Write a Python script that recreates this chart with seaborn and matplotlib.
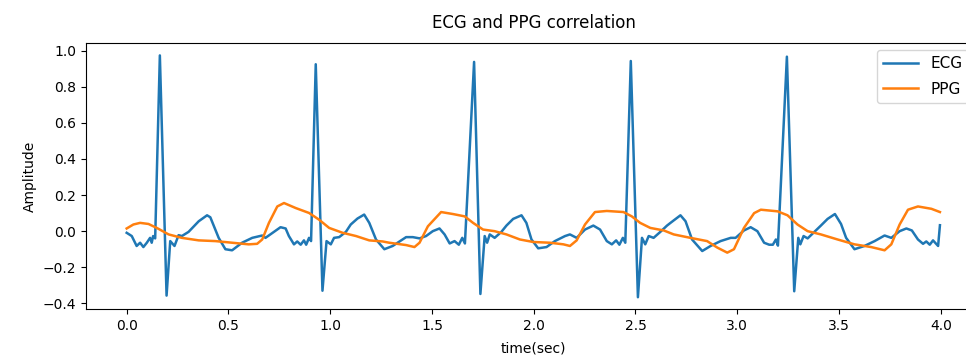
#-- ECG and PPG correlation plot --

import pandas as pd
import matplotlib
matplotlib.use('Agg')
import matplotlib.pyplot as plt
import seaborn as sns

#--signals--
ecg_time = [0.000, 0.025, 0.049, 0.066, 0.082, 0.099, 0.115, 0.123, 0.130, 0.140,
            0.163, 0.196, 0.214, 0.235, 0.255, 0.271, 0.304, 0.354, 0.395, 0.411,
            0.452, 0.485, 0.518, 0.567, 0.617, 0.666, 0.682, 0.723, 0.756, 0.781,
            0.797, 0.822, 0.838, 0.855, 0.871, 0.882, 0.896, 0.906, 0.929, 0.962,
            0.982, 1.003, 1.019, 1.044, 1.077, 1.101, 1.134, 1.167, 1.192, 1.225,
            1.266, 1.307, 1.373, 1.406, 1.439, 1.471, 1.504, 1.537, 1.562, 1.587,
            1.611, 1.632, 1.649, 1.662, 1.707, 1.738, 1.759, 1.771, 1.784, 1.808,
            1.841, 1.866, 1.899, 1.940, 1.964, 1.989, 2.022, 2.063, 2.104, 2.154,
            2.178, 2.211, 2.252, 2.293, 2.326, 2.359, 2.384, 2.405, 2.421, 2.438,
            2.450, 2.477, 2.512, 2.532, 2.548, 2.565, 2.589, 2.622, 2.655, 2.672,
            2.721, 2.746, 2.778, 2.828, 2.869, 2.918, 2.968, 2.992, 3.033, 3.066,
            3.099, 3.132, 3.157, 3.175, 3.190, 3.200, 3.244, 3.280, 3.300, 3.310,
            3.326, 3.346, 3.370, 3.411, 3.444, 3.480, 3.510, 3.535, 3.576, 3.625,
            3.675, 3.724, 3.757, 3.798, 3.831, 3.858, 3.888, 3.913, 3.929, 3.946,
            3.962, 3.987, 3.996]
ecg_amp  = [-0.009, -0.027, -0.082, -0.064, -0.088, -0.064, -0.037, -0.064, -0.027, -0.040,
            0.974, -0.357, -0.055, -0.082, -0.022, -0.027, -0.004, 0.055, 0.088, 0.077,
            -0.037, -0.100, -0.106, -0.064, -0.037, -0.024, -0.037, -0.004, 0.022, 0.015,
            -0.027, -0.073, -0.057, -0.075, -0.051, -0.075, -0.037, -0.055, 0.925, -0.330,
            -0.055, -0.073, -0.037, -0.033, -0.004, 0.037, 0.070, 0.092, 0.046, -0.046,
            -0.100, -0.082, -0.033, -0.033, -0.040, -0.027, 0.000, 0.015, -0.018, -0.068,
            -0.055, -0.075, -0.037, -0.068, 0.938, -0.348, -0.027, -0.064, -0.018, -0.037,
            -0.004, 0.031, 0.068, 0.088, 0.046, -0.046, -0.095, -0.088, -0.055, -0.027,
            -0.018, -0.037, 0.009, 0.031, 0.009, -0.055, -0.073, -0.051, -0.075, -0.037,
            -0.064, 0.943, -0.366, -0.037, -0.073, -0.027, -0.037, -0.004, 0.031, 0.046,
            0.088, 0.055, -0.046, -0.110, -0.082, -0.055, -0.037, -0.037, 0.004, 0.022,
            0.000, -0.064, -0.075, -0.075, -0.046, -0.080, 0.967, -0.333, -0.037, -0.073,
            -0.027, -0.040, -0.014, 0.031, 0.068, 0.095, 0.040, -0.037, -0.100, -0.082,
            -0.055, -0.024, -0.037, 0.000, 0.015, 0.004, -0.046, -0.070, -0.057, -0.075,
            -0.051, -0.082, 0.033]

ppg_time = [0.000, 0.033, 0.066, 0.107, 0.148, 0.206, 0.271, 0.354, 0.436, 0.518,
            0.600, 0.641, 0.666, 0.699, 0.740, 0.773, 0.831, 0.896, 0.945, 0.995,
            1.061, 1.127, 1.192, 1.258, 1.290, 1.373, 1.414, 1.439, 1.480, 1.545,
            1.603, 1.661, 1.702, 1.751, 1.808, 1.866, 1.932, 1.998, 2.080, 2.146,
            2.178, 2.211, 2.252, 2.301, 2.359, 2.441, 2.482, 2.523, 2.573, 2.639,
            2.688, 2.770, 2.852, 2.902, 2.951, 2.984, 3.033, 3.083, 3.116, 3.198,
            3.247, 3.296, 3.346, 3.411, 3.493, 3.576, 3.658, 3.724, 3.757, 3.798,
            3.839, 3.888, 3.954, 3.996]
ppg_amp  = [0.015, 0.037, 0.046, 0.040, 0.018, -0.018, -0.037, -0.051, -0.055, -0.064,
            -0.073, -0.070, -0.046, 0.046, 0.137, 0.156, 0.128, 0.101, 0.064, 0.018,
            -0.009, -0.027, -0.051, -0.057, -0.064, -0.077, -0.088, -0.064, 0.027, 0.106,
            0.095, 0.082, 0.046, 0.009, 0.000, -0.018, -0.046, -0.060, -0.064, -0.073,
            -0.082, -0.051, 0.037, 0.106, 0.112, 0.106, 0.082, 0.046, 0.018, 0.004,
            -0.018, -0.037, -0.055, -0.091, -0.119, -0.100, 0.018, 0.100, 0.119, 0.110,
            0.088, 0.037, 0.000, -0.018, -0.046, -0.073, -0.088, -0.106, -0.073, 0.037,
            0.119, 0.137, 0.124, 0.106]

ecg = pd.DataFrame({'time': ecg_time, 'amp': ecg_amp})
ppg = pd.DataFrame({'time': ppg_time, 'amp': ppg_amp})

fig = plt.figure(figsize=(9.66, 3.58), dpi=100)
ax = fig.add_axes([0.089, 0.136, 0.927, 0.743])

sns.lineplot(x='time', y='amp', data=ecg, label='ECG', color='#1f77b4',
             linewidth=1.8, estimator=None, ax=ax)
sns.lineplot(x='time', y='amp', data=ppg, label='PPG', color='#ff7f0e',
             linewidth=1.8, estimator=None, ax=ax)

ax.set_xlim(-0.2, 4.2)
ax.set_ylim(-0.433, 1.041)
ax.set_xticks([0.0, 0.5, 1.0, 1.5, 2.0, 2.5, 3.0, 3.5, 4.0])
ax.set_yticks([-0.4, -0.2, 0.0, 0.2, 0.4, 0.6, 0.8, 1.0])
ax.set_title('ECG and PPG correlation', fontsize=12, pad=11)
ax.set_xlabel('time(sec)', labelpad=6)
ax.set_ylabel('Amplitude')
# legend runs off the right edge like in the cropped original
ax.legend(loc='upper left', bbox_to_anchor=(0.883, 0.975), borderaxespad=0,
          fontsize=11, handlelength=2.3, labelspacing=0.7)

fig.savefig('out.png', dpi=100)
